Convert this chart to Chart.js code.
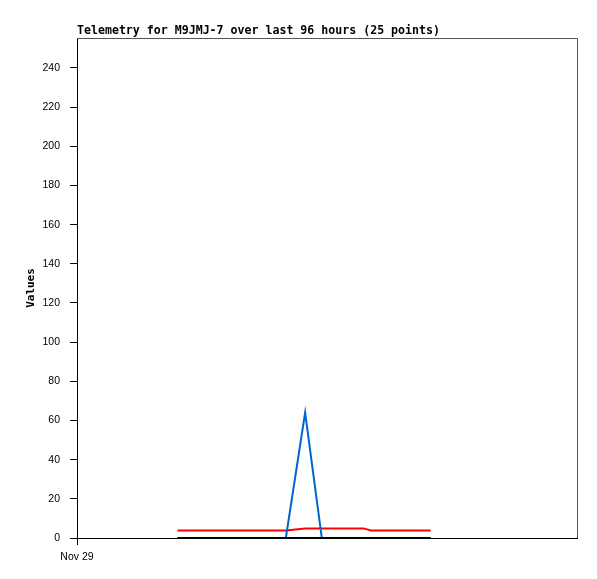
<!DOCTYPE html>
<html>
<head>
<meta charset="utf-8">
<script src="https://cdn.jsdelivr.net/npm/chart.js@4/dist/chart.umd.min.js"></script>
<style>
  html, body { margin: 0; padding: 0; background: #ffffff; }
  #wrap { width: 597px; height: 579px; position: relative; }
</style>
</head>
<body>
<div id="wrap"><canvas id="c" width="597" height="579"></canvas></div>
<script>
// ---- data (hours since Nov 29 00:00) ----
const chartTitle = 'Telemetry for M9JMJ-7 over last 96 hours (25 points)';
const yAxisTitle = 'Values';
const hours = [19.3, 21.4, 23.5, 25.6, 27.7, 29.8, 31.9, 34.0, 36.1, 38.1,
               40.1, 43.8, 47.0, 49.0, 51.0, 53.0, 55.0, 56.5, 58.4, 60.3,
               62.2, 64.1, 66.0, 67.0, 67.9];
const channelBlue  = [0, 0, 0, 0, 0, 0, 0, 0, 0, 0,
                      0, 64, 0, 0, 0, 0, 0, 0, 0, 0,
                      0, 0, 0, 0, 0];
const channelRed   = [3.8, 3.8, 3.8, 3.8, 3.8, 3.8, 3.8, 3.8, 3.8, 3.8,
                      3.8, 4.9, 4.9, 4.9, 4.9, 4.9, 4.9, 3.8, 3.8, 3.8,
                      3.8, 3.8, 3.8, 3.8, 3.8];
const channelBlack = [0, 0, 0, 0, 0, 0, 0, 0, 0, 0,
                      0, 0, 0, 0, 0, 0, 0, 0, 0, 0,
                      0, 0, 0, 0, 0];
const xTickValues = [0];
const xTickLabels = ['Nov 29'];
const yTickValues = [0, 20, 40, 60, 80, 100, 120, 140, 160, 180, 200, 220, 240];
const xMin = 0, xMax = 96;
const yMin = 0, yMax = 255.3;

const toPoints = (vals) => hours.map((h, i) => ({ x: h, y: vals[i] }));

const framePlugin = {
  id: 'frame',
  beforeDatasetsDraw(chart) {
    const { ctx, chartArea: a } = chart;
    ctx.save();
    ctx.strokeStyle = '#555555';
    ctx.lineWidth = 1;
    ctx.beginPath();
    ctx.moveTo(a.left, a.top + 0.5);
    ctx.lineTo(a.right + 0.5, a.top + 0.5);
    ctx.lineTo(a.right + 0.5, a.bottom);
    ctx.stroke();
    ctx.restore();
  },
  afterDraw(chart) {
    const { ctx, chartArea: a } = chart;
    ctx.save();
    ctx.fillStyle = '#000000';
    ctx.font = 'bold 11.6px "DejaVu Sans Mono", "Liberation Mono", monospace';
    ctx.textAlign = 'left';
    ctx.textBaseline = 'alphabetic';
    ctx.fillText(chartTitle, a.left, a.top - 4);
    ctx.restore();
  }
};

new Chart(document.getElementById('c'), {
  type: 'line',
  data: {
    datasets: [
      { label: 'Channel B', data: toPoints(channelBlue), borderColor: '#0066cc', borderWidth: 2, order: 1, clip: false },
      { label: 'Channel R', data: toPoints(channelRed), borderColor: '#ff0000', borderWidth: 2, order: 2, clip: false },
      { label: 'Channel K', data: toPoints(channelBlack), borderColor: '#000000', borderWidth: 2, order: 0, clip: false }
    ]
  },
  options: {
    responsive: false,
    animation: false,
    devicePixelRatio: 1,
    layout: { padding: { left: 0, right: 20, top: 38, bottom: 0 } },
    elements: { point: { radius: 0, hoverRadius: 0 }, line: { tension: 0, fill: false } },
    plugins: { legend: { display: false }, tooltip: { enabled: false }, title: { display: false } },
    scales: {
      x: {
        type: 'linear',
        min: xMin, max: xMax,
        afterBuildTicks(scale) { scale.ticks = xTickValues.map(v => ({ value: v })); },
        afterFit(scale) { scale.height = 41; },
        ticks: {
          autoSkip: false, maxRotation: 0, padding: 6, color: '#000000',
          font: { family: '"Liberation Sans", Arial, sans-serif', size: 10.5 },
          callback(v) { const i = xTickValues.indexOf(v); return i >= 0 ? xTickLabels[i] : ''; }
        },
        grid: { display: true, drawOnChartArea: false, drawTicks: true, tickLength: 7, color: '#000000' },
        border: { display: true, color: '#000000', width: 1 }
      },
      y: {
        type: 'linear',
        min: yMin, max: yMax,
        afterBuildTicks(scale) { scale.ticks = yTickValues.map(v => ({ value: v })); },
        afterFit(scale) { scale.width = 77; },
        ticks: {
          autoSkip: false, padding: 10, color: '#000000',
          font: { family: '"Liberation Sans", Arial, sans-serif', size: 10.5 }
        },
        grid: { display: true, drawOnChartArea: false, drawTicks: true, tickLength: 7, color: '#000000' },
        border: { display: true, color: '#000000', width: 1 },
        title: {
          display: true, text: yAxisTitle, color: '#000000',
          font: { family: '"DejaVu Sans Mono", "Liberation Mono", monospace', size: 11, weight: 'bold' },
          padding: { top: 25, bottom: 0 }
        }
      }
    }
  },
  plugins: [framePlugin]
});
</script>
</body>
</html>
